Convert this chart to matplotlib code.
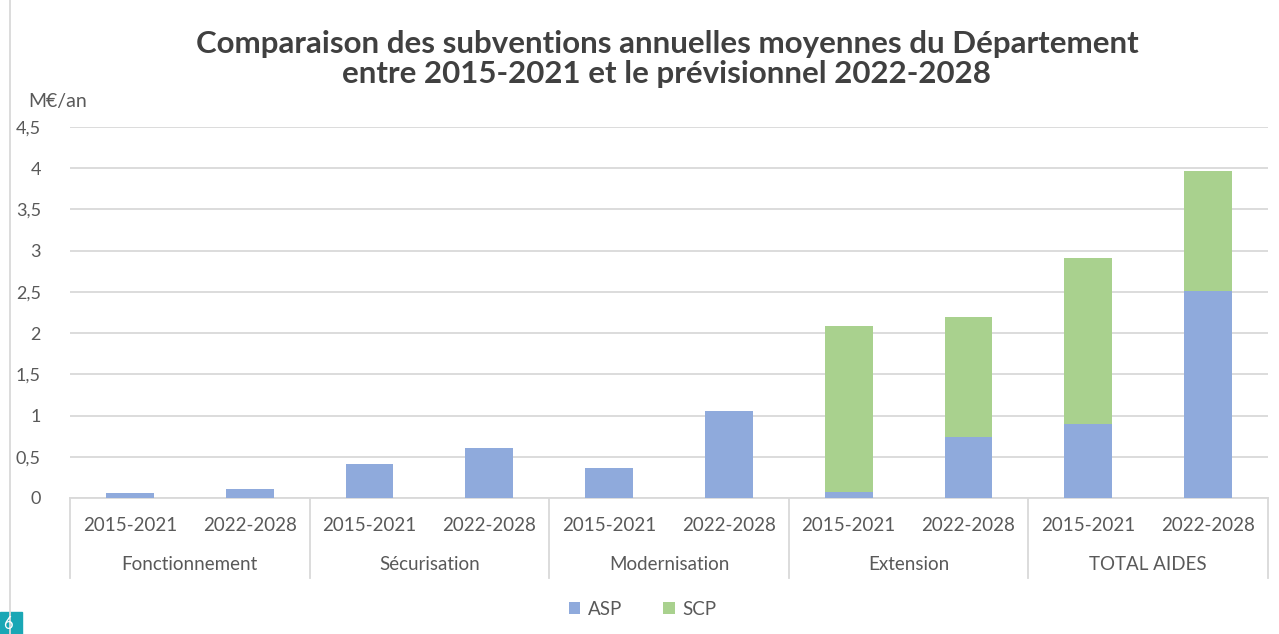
import numpy as np
import matplotlib
matplotlib.use("Agg")
from matplotlib import pyplot as plt
from matplotlib.lines import Line2D
from matplotlib.patches import Rectangle

# Data (M€/an)
groups = ["Fonctionnement", "Sécurisation", "Modernisation", "Extension", "TOTAL AIDES"]
periods = ["2015-2021", "2022-2028"]
asp = [0.06, 0.11, 0.41, 0.61, 0.36, 1.05, 0.07, 0.74, 0.90, 2.51]
scp = [0.00, 0.00, 0.00, 0.00, 0.00, 0.00, 2.02, 1.46, 2.01, 1.46]

c_asp = "#8FAADC"
c_scp = "#A9D18E"
grid_c = "#D9D9D9"
txt_c = "#595959"

plt.rcParams['font.family'] = ['Lato', 'DejaVu Sans']

fig = plt.figure(figsize=(12.79, 6.34), dpi=100)
ax = fig.add_axes([70 / 1279, 1 - 498 / 634, (1268 - 70) / 1279, (498 - 127) / 634])

x = np.arange(len(asp))
ax.bar(x, asp, width=0.4, color=c_asp, label="ASP", zorder=3)
ax.bar(x, scp, width=0.4, bottom=asp, color=c_scp, label="SCP", zorder=3)

ax.set_xlim(-0.5, len(asp) - 0.5)
ax.set_ylim(0, 4.5)
yt = np.arange(0, 4.51, 0.5)
ax.set_yticks(yt)
ax.set_yticklabels([f"{v:g}".replace(".", ",") for v in yt], fontsize=13, color=txt_c)
ax.yaxis.grid(True, color=grid_c, linewidth=1.3, zorder=0)
ax.tick_params(axis='y', length=0, pad=21)
for s in ["top", "right", "left"]:
    ax.spines[s].set_visible(False)
ax.spines["bottom"].set_color(grid_c)
ax.spines["bottom"].set_linewidth(1.3)

ax.set_xticks(x)
ax.set_xticklabels(periods * len(groups), fontsize=13.5, color=txt_c)
ax.tick_params(axis='x', length=0, pad=14)

# two-level category axis
tr = ax.get_xaxis_transform()
for b in np.arange(-0.5, len(asp), 2):
    ax.add_line(Line2D([b, b], [0, -0.216], transform=tr, color=grid_c,
                       linewidth=1.3, clip_on=False))
for i, g in enumerate(groups):
    ax.text(2 * i + 0.5, -0.18, g, transform=tr, ha="center", va="center",
            fontsize=13.5, color=txt_c)

ax.text(-0.035, 1.07, "M€/an", transform=ax.transAxes, ha="left", va="center",
        fontsize=14, color=txt_c)

fig.text(0.5215, 0.907, "Comparaison des subventions annuelles moyennes du Département\n"
         "entre 2015-2021 et le prévisionnel 2022-2028",
         ha="center", va="center", fontsize=22.5, fontweight="bold", color="#404040",
         linespacing=1.12)

ax.legend(loc="center", bbox_to_anchor=(0.478, -0.3), ncol=2, frameon=False,
          fontsize=13.5, handlelength=0.6, handleheight=0.6, handletextpad=0.4,
          columnspacing=2.2, labelcolor=txt_c)

# frame line on the left and page number box
fig.add_artist(Line2D([10 / 1279, 10 / 1279], [0, 1], color=grid_c, linewidth=1.3))
fig.add_artist(Rectangle((0, 0), 22 / 1279, 22 / 634, color="#1AA7B5", transform=fig.transFigure))
fig.text(3 / 1279, 2 / 634, "6", color="white", fontsize=12, ha="left", va="bottom")

fig.savefig("out.png", dpi=100)
